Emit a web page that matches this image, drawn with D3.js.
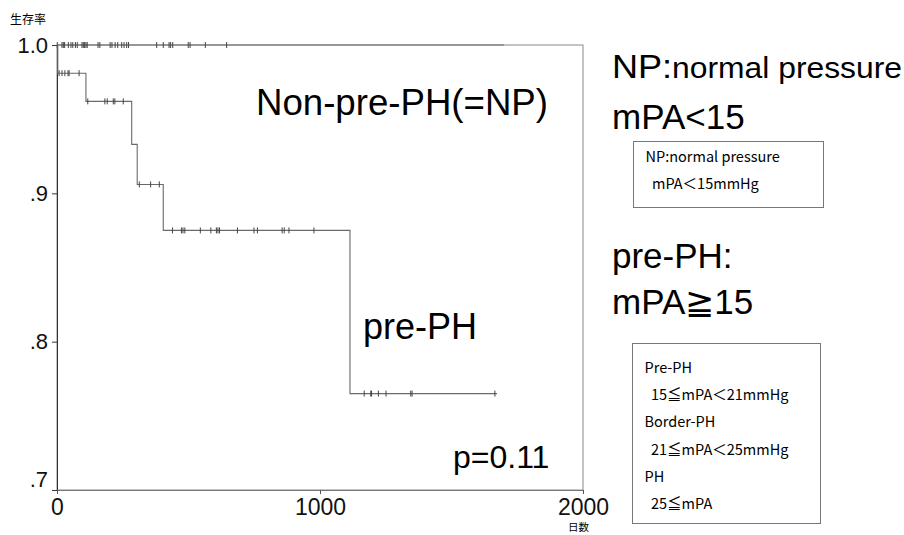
<!DOCTYPE html>
<html>
<head>
  <meta charset="utf-8">
  <script src="https://d3js.org/d3.v7.min.js"></script>
  <style>
    body { margin: 0; background: #fff; }
    svg { display: block; font-family: "Liberation Sans", Arial, sans-serif; }
  </style>
</head>
<body>
  <div id="chart"></div>
  <script>
    // pre-PH Kaplan-Meier steps (day of event, survival after it)
    var preDays = [0, 3, 110, 284, 305, 404, 1114];
    var preSurv = [1.0, 0.981, 0.962, 0.933, 0.906, 0.875, 0.765];
    var preEnd = 1673;
    // pre-PH censored days
    var preCensor = [8, 19, 30, 42, 46, 84, 117, 182, 191, 214, 220, 252, 313, 356, 389,
      439, 473, 479, 486, 545, 585, 606, 612, 618, 686, 749, 762, 856, 864, 882, 977,
      1168, 1193, 1196, 1222, 1251, 1345, 1350, 1665];

    // NP curve stays at 1.0
    var npDays = [0];
    var npSurv = [1.0];
    var npEnd = 1700;
    var npCensor = [1, 19, 24, 29, 43, 53, 60, 70, 77, 95, 100, 105, 110, 115, 156, 163,
      202, 209, 221, 231, 246, 255, 265, 272, 379, 404, 426, 432, 440, 499, 506, 564, 645];

    var yTicks = [0.7, 0.8, 0.9, 1.0];
    var yTickLabels = [".7", ".8", ".9", "1.0"];
    var xTicks = [0, 1000, 2000];

    var box1Lines = ["NP:normal pressure", "  mPA＜15mmHg"];
    var box2Lines = ["Pre-PH", "  15≦mPA＜21mmHg", "Border-PH", "  21≦mPA＜25mmHg", "PH", "  25≦mPA"];

    var W = 904, H = 535;
    var svg = d3.select("#chart").append("svg").attr("width", W).attr("height", H);

    var x = d3.scaleLinear().domain([0, 2000]).range([57, 583]);
    var y = d3.scaleLinear().domain([0.7, 1.0]).range([490, 45]);

    // frame
    svg.append("rect")
      .attr("x", x(0)).attr("y", y(1.0))
      .attr("width", x(2000) - x(0)).attr("height", y(0.7) - y(1.0))
      .attr("fill", "none").attr("stroke", "#8a8a8a").attr("stroke-width", 1);

    // y axis
    var yAxis = d3.axisLeft(y).tickValues(yTicks)
      .tickFormat(function (d, i) { return yTickLabels[i]; })
      .tickSize(5).tickPadding(4);
    var gy = svg.append("g").attr("transform", "translate(" + x(0) + ",0)").call(yAxis);
    gy.select(".domain").attr("stroke", "#333");
    gy.selectAll("line").attr("stroke", "#333");
    gy.selectAll("text").attr("font-size", 22).attr("fill", "#111")
      .attr("font-family", "Liberation Sans, Arial, sans-serif");
    // bottom label sits a little above its tick
    gy.selectAll(".tick").filter(function (d) { return d === 0.7; })
      .select("text").attr("y", -11);

    // x axis
    var xAxis = d3.axisBottom(x).tickValues(xTicks).tickFormat(d3.format("d"))
      .tickSize(4).tickPadding(5);
    var gx = svg.append("g").attr("transform", "translate(0," + y(0.7) + ")").call(xAxis);
    gx.select(".domain").attr("stroke", "#777");
    gx.selectAll("line").attr("stroke", "#555");
    gx.selectAll("text").attr("font-size", 23).attr("fill", "#111")
      .attr("font-family", "Liberation Sans, Arial, sans-serif");

    // axis titles
    svg.append("text").attr("x", 10).attr("y", 24).attr("font-size", 12)
      .attr("font-family", "Noto Sans CJK JP").text("生存率");
    svg.append("text").attr("x", 568).attr("y", 531).attr("font-size", 10.5)
      .attr("font-family", "Noto Sans CJK JP").text("日数");

    // step curves
    var line = d3.line()
      .x(function (d) { return x(d[0]); })
      .y(function (d) { return y(d[1]); })
      .curve(d3.curveStepAfter);

    function stepPoints(days, surv, end) {
      var pts = days.map(function (d, i) { return [d, surv[i]]; });
      pts.push([end, surv[surv.length - 1]]);
      return pts;
    }
    function survAt(days, surv, t) {
      var s = surv[0];
      for (var i = 0; i < days.length; i++) if (days[i] <= t) s = surv[i];
      return s;
    }

    function drawCurve(days, surv, end, censor) {
      svg.append("path")
        .attr("d", line(stepPoints(days, surv, end)))
        .attr("fill", "none").attr("stroke", "#6a6a6a").attr("stroke-width", 1.1);
      svg.append("g").selectAll("line")
        .data(censor).enter().append("line")
        .attr("x1", function (d) { return x(d); })
        .attr("x2", function (d) { return x(d); })
        .attr("y1", function (d) { return y(survAt(days, surv, d)) - 3; })
        .attr("y2", function (d) { return y(survAt(days, surv, d)) + 3; })
        .attr("stroke", "#444").attr("stroke-width", 1);
    }
    drawCurve(npDays, npSurv, npEnd, npCensor);
    drawCurve(preDays, preSurv, preEnd, preCensor);

    // annotations in the plot
    svg.append("text").attr("x", 256).attr("y", 115).attr("font-size", 36)
      .attr("textLength", 292).attr("lengthAdjust", "spacingAndGlyphs").text("Non-pre-PH(=NP)");
    svg.append("text").attr("x", 363).attr("y", 339).attr("font-size", 36).text("pre-PH");
    svg.append("text").attr("x", 453).attr("y", 468).attr("font-size", 32).text("p=0.11");

    // right side labels
    var t1 = svg.append("text").attr("x", 612).attr("y", 78)
      .attr("textLength", 290).attr("lengthAdjust", "spacingAndGlyphs");
    t1.append("tspan").attr("font-size", 34).text("NP:");
    t1.append("tspan").attr("font-size", 30).text("normal pressure");
    svg.append("text").attr("x", 612).attr("y", 129).attr("font-size", 35).text("mPA<15");
    svg.append("text").attr("x", 612).attr("y", 268).attr("font-size", 35).text("pre-PH:");
    svg.append("text").attr("x", 612).attr("y", 314).attr("font-size", 35).text("mPA≧15");

    function drawBox(x0, y0, w, h, lines, firstY, step) {
      svg.append("rect").attr("x", x0).attr("y", y0).attr("width", w).attr("height", h)
        .attr("fill", "none").attr("stroke", "#777").attr("stroke-width", 1);
      svg.append("g").selectAll("text").data(lines).enter().append("text")
        .attr("x", x0 + 12)
        .attr("y", function (d, i) { return firstY + i * step; })
        .attr("font-size", 14.5)
        .attr("font-family", "Noto Sans CJK JP, Noto Sans, sans-serif")
        .attr("xml:space", "preserve")
        .style("white-space", "pre")
        .text(function (d) { return d; });
    }
    drawBox(633.5, 141.5, 190, 66, box1Lines, 162, 27);
    drawBox(632.5, 343.5, 188, 180, box2Lines, 373, 27.2);
  </script>
</body>
</html>
